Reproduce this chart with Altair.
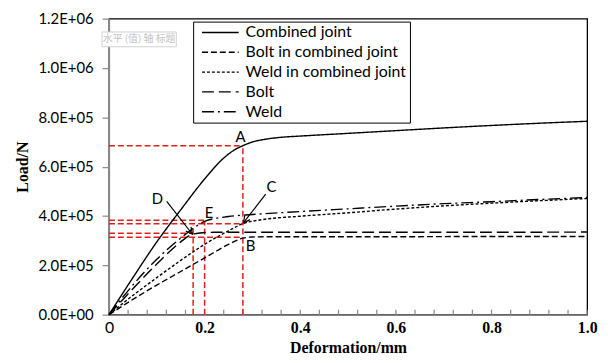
import altair as alt
import pandas as pd

# ---------------- data ----------------
series_names = ["Combined joint", "Bolt in combined joint", "Weld in combined joint", "Bolt", "Weld"]
series_dashes = [[1, 0], [6, 3], [3, 2], [12, 5], [12, 4, 2, 4]]

x_combined = [0, 0.05, 0.1, 0.15, 0.2, 0.24, 0.26, 0.28, 0.3, 0.33, 0.36, 0.4, 0.5, 0.6, 0.7, 0.8, 0.9, 1.0]
y_combined = [0, 1.5e5, 2.95e5, 4.25e5, 5.5e5, 6.35e5, 6.65e5, 6.85e5, 7.0e5, 7.12e5, 7.19e5, 7.24e5, 7.35e5, 7.46e5, 7.57e5, 7.67e5, 7.76e5, 7.84e5]

x_bolt_comb = [0, 0.05, 0.1, 0.15, 0.2, 0.25, 0.28, 0.3, 0.34, 0.4, 0.6, 0.8, 1.0]
y_bolt_comb = [0, 0.62e5, 1.2e5, 1.75e5, 2.3e5, 2.85e5, 3.1e5, 3.15e5, 3.16e5, 3.16e5, 3.16e5, 3.17e5, 3.17e5]

x_weld_comb = [0, 0.05, 0.1, 0.15, 0.2, 0.25, 0.28, 0.32, 0.4, 0.5, 0.6, 0.7, 0.8, 0.9, 1.0]
y_weld_comb = [0, 0.78e5, 1.5e5, 2.2e5, 2.85e5, 3.4e5, 3.69e5, 3.85e5, 3.99e5, 4.13e5, 4.28e5, 4.41e5, 4.52e5, 4.62e5, 4.71e5]

x_bolt = [0, 0.05, 0.1, 0.15, 0.17, 0.19, 0.22, 0.3, 0.5, 0.8, 1.0]
y_bolt = [0, 1.05e5, 2.05e5, 2.95e5, 3.22e5, 3.31e5, 3.34e5, 3.34e5, 3.34e5, 3.34e5, 3.35e5]

x_weld = [0, 0.05, 0.1, 0.15, 0.18, 0.2, 0.25, 0.3, 0.4, 0.5, 0.6, 0.7, 0.8, 0.9, 1.0]
y_weld = [0, 1.2e5, 2.25e5, 3.1e5, 3.55e5, 3.78e5, 3.98e5, 4.06e5, 4.18e5, 4.29e5, 4.4e5, 4.5e5, 4.58e5, 4.67e5, 4.75e5]

# red dashed guide segments (x1, y1, x2, y2)
guide_x1 = [0, 0.28, 0, 0.2, 0, 0, 0.176, 0]
guide_y1 = [6.85e5, 0, 3.83e5, 0, 3.69e5, 3.30e5, 0, 3.14e5]
guide_x2 = [0.28, 0.28, 0.2, 0.2, 0.28, 0.176, 0.176, 0.28]
guide_y2 = [6.85e5, 6.85e5, 3.83e5, 3.76e5, 3.69e5, 3.30e5, 3.63e5, 3.14e5]

# point labels
letter_text = ["A", "B", "C", "D", "E"]
letter_x = [0.275, 0.296, 0.34, 0.101, 0.209]
letter_y = [7.19e5, 2.78e5, 5.16e5, 4.69e5, 4.13e5]

# arrows (start -> tip)
arrow_x1 = [0.1207, 0.3277]
arrow_y1 = [4.597e5, 4.887e5]
arrow_x2 = [0.1745, 0.281]
arrow_y2 = [3.26e5, 3.72e5]
arrow_angle = [142.3, 217.5]

# Excel placeholder
placeholder_text = ["水平 (值) 轴 标题"]
placeholder_x = [0.063]
placeholder_y = [1.116e6]
placeholder_box_x = [-0.0145, 0.1408]
placeholder_box_y = [1.146e6, 1.086e6]

x_tick_values = [round(i * 0.04, 2) for i in range(26)]
x_label_values = [0, 0.2, 0.4, 0.6, 0.8, 1.0]
y_tick_values = [0, 2e5, 4e5, 6e5, 8e5, 1.0e6, 1.2e6]
y_tick_labels = ["0.0E+00", "2.0E+05", "4.0E+05", "6.0E+05", "8.0E+05", "1.0E+06", "1.2E+06"]

# ---------------- build tables ----------------
rows = []
for name, xs, ys in zip(series_names,
                        [x_combined, x_bolt_comb, x_weld_comb, x_bolt, x_weld],
                        [y_combined, y_bolt_comb, y_weld_comb, y_bolt, y_weld]):
    for xv, yv in zip(xs, ys):
        rows.append({"series": name, "x": xv, "y": yv})
lines_df = pd.DataFrame(rows)

guides_df = pd.DataFrame({"x": guide_x1, "y": guide_y1, "x2": guide_x2, "y2": guide_y2})
letters_df = pd.DataFrame({"t": letter_text, "x": letter_x, "y": letter_y})
arrows_df = pd.DataFrame({"x": arrow_x1, "y": arrow_y1, "x2": arrow_x2, "y2": arrow_y2, "ang": arrow_angle})
ph_df = pd.DataFrame({"t": placeholder_text, "x": placeholder_x, "y": placeholder_y})
phbox_df = pd.DataFrame({"x": [placeholder_box_x[0]], "x2": [placeholder_box_x[1]],
                         "y": [placeholder_box_y[0]], "y2": [placeholder_box_y[1]]})
ticks_df = pd.DataFrame({"x": x_tick_values})

xscale = alt.Scale(domain=[0, 1], nice=False, zero=False)
yscale = alt.Scale(domain=[0, 1.2e6], nice=False)

ylabel_expr = ""
for v, l in zip(y_tick_values, y_tick_labels):
    ylabel_expr += f"datum.value == {v} ? '{l}' : "
ylabel_expr += "''"

GRAY = "#898989"

x_axis = alt.Axis(
    values=x_label_values, ticks=False, domainColor=GRAY, domainWidth=1.3,
    labelExpr="datum.value == 0 ? '0' : format(datum.value, '.1f')",
    labelFont={"condition": {"test": "datum.value == 0", "value": "Lato"}, "value": "Liberation Serif"},
    labelFontWeight={"condition": {"test": "datum.value == 0", "value": "normal"}, "value": "bold"},
    labelFontSize=16, labelColor="black", labelPadding=5, labelFlush=False,
    title="Deformation/mm", titleFont="Liberation Serif", titleFontWeight="bold",
    titleFontSize=16, titleColor="black", titlePadding=4, grid=False,
)
y_axis = alt.Axis(
    values=y_tick_values, labelExpr=ylabel_expr, labelFont="Lato", labelFontSize=15,
    labelColor="black", tickSize=7, tickColor=GRAY, tickWidth=1.2, domainColor=GRAY,
    domainWidth=1.3, labelPadding=9, grid=False,
    title="Load/N", titleFont="Liberation Serif", titleFontWeight="bold",
    titleFontSize=16, titleColor="black", titlePadding=8,
)

X = lambda f: alt.X(f, scale=xscale, axis=x_axis)
Y = lambda f: alt.Y(f, scale=yscale, axis=y_axis)

lines = alt.Chart(lines_df).mark_line(color="black", strokeWidth=1.4, interpolate="monotone").encode(
    x=X("x:Q"),
    y=Y("y:Q"),
    strokeDash=alt.StrokeDash(
        "series:N",
        scale=alt.Scale(domain=series_names, range=series_dashes),
        legend=alt.Legend(
            title=None, orient="none", legendX=85, legendY=3,
            strokeColor="black", padding=3, symbolOffset=5,
            symbolType="stroke", symbolSize=1369, symbolStrokeWidth=1.4,
            symbolStrokeColor="black", labelFont="Lato", labelFontSize=16,
            labelColor="black", rowPadding=4, labelOffset=6, labelLimit=300,
            clipHeight=16,
        ),
    ),
    order=alt.Order("x:Q"),
)

xticks = alt.Chart(ticks_df).mark_tick(
    orient="vertical", size=5, thickness=1.2, color=GRAY, yOffset=-2.5, opacity=1
).encode(
    x=X("x:Q"),
    y=Y("y0:Q"),
).transform_calculate(y0="0")

guides = alt.Chart(guides_df).mark_rule(color="#e0201b", strokeDash=[6, 3], strokeWidth=1.5).encode(
    x=X("x:Q"), y=Y("y:Q"), x2="x2:Q", y2="y2:Q",
)

arrows = alt.Chart(arrows_df).mark_rule(color="black", strokeWidth=1.2).encode(
    x=X("x:Q"), y=Y("y:Q"), x2="x2:Q", y2="y2:Q",
)
heads = alt.Chart(arrows_df).mark_point(
    shape="M-0.5,1L0,0L0.5,1", filled=False, stroke="black", strokeWidth=1.2, size=180, opacity=1
).encode(
    x=X("x2:Q"), y=Y("y2:Q"),
    angle=alt.Angle("ang:Q", scale=None),
)

letters = alt.Chart(letters_df).mark_text(font="Lato", fontSize=15, color="black").encode(
    x=X("x:Q"), y=Y("y:Q"), text="t:N",
)

phbox = alt.Chart(phbox_df).mark_rect(fill="white", stroke="#d0d0d0", strokeWidth=1).encode(
    x=X("x:Q"), x2="x2:Q", y=Y("y:Q"), y2="y2:Q",
)
phtext = alt.Chart(ph_df).mark_text(font="Noto Sans CJK SC", fontSize=10, color="#c4c4c4").encode(
    x=X("x:Q"), y=Y("y:Q"), text="t:N",
)

chart = alt.layer(phbox, phtext, xticks, guides, lines, arrows, heads, letters).properties(
    width=483, height=299,
    autosize=alt.AutoSizeParams(type="none"),
    padding={"left": 102, "top": 9, "right": 16, "bottom": 41},
    background="white",
).configure_view(
    stroke="black", strokeWidth=1.3
)

chart.save("out.html", embed_options={"renderer": "svg", "actions": False})
